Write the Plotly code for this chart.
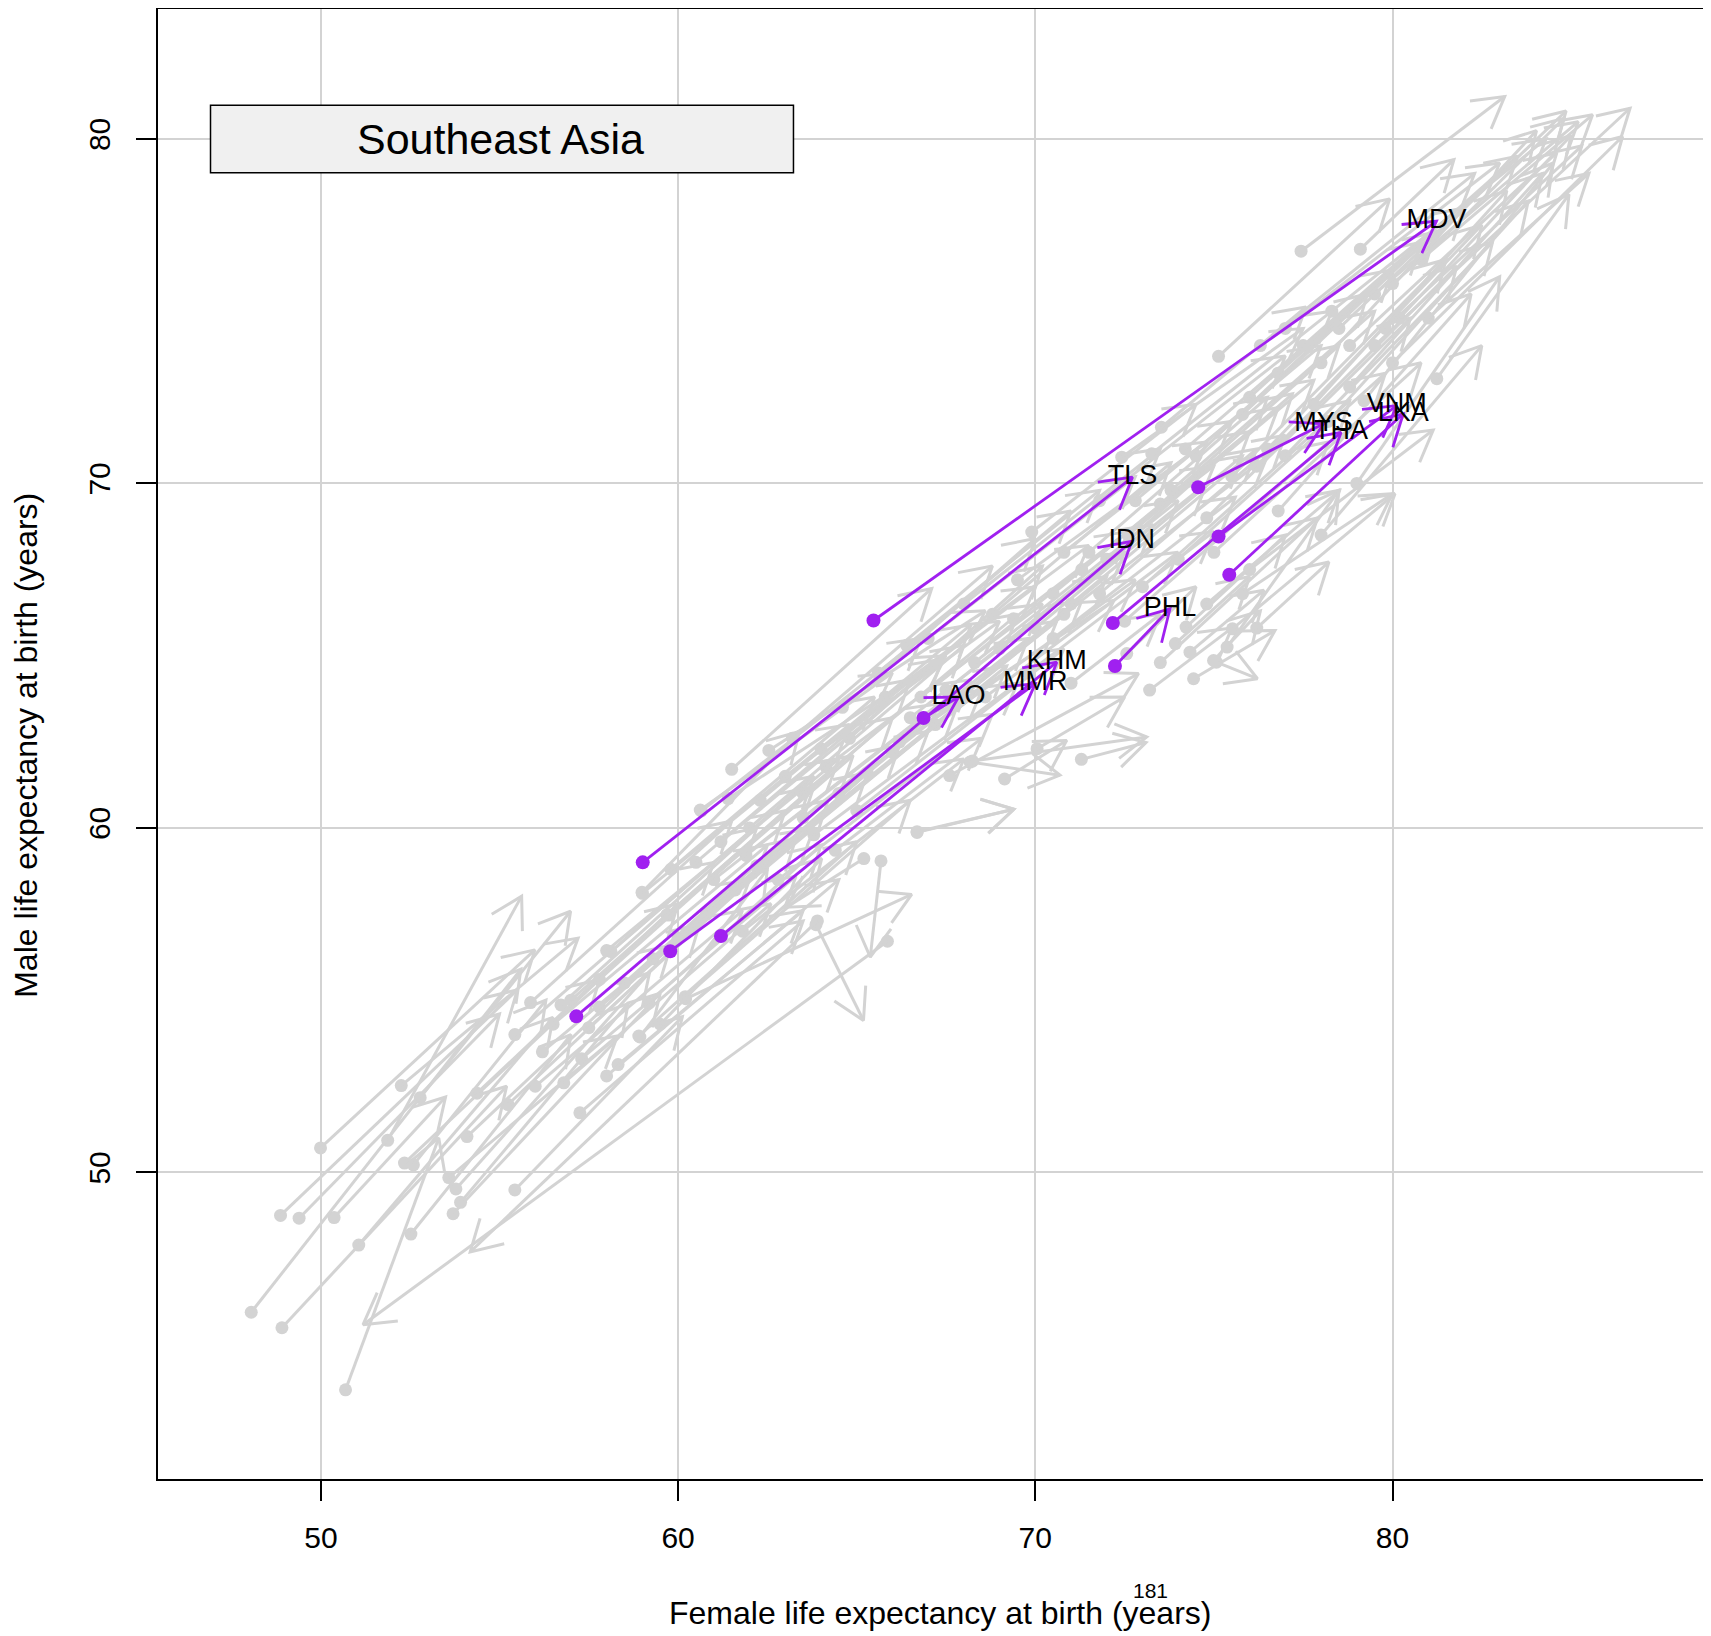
import math
import plotly.graph_objects as go

# ---------------- data (female, male life expectancy: start -> end) ----------------
# Highlighted region: Southeast Asia
sea_code = ["MDV", "TLS", "IDN", "LAO", "MMR", "KHM", "PHL", "MYS", "THA", "VNM", "LKA"]
sea_female_start = [65.47, 59.01, 57.15, 66.87, 59.78, 61.20, 72.23, 74.56, 72.17, 75.13, 75.43]
sea_male_start = [66.02, 59.00, 54.53, 63.19, 56.42, 56.86, 64.70, 69.89, 65.95, 68.46, 67.35]
sea_female_end = [81.23, 72.72, 72.70, 67.85, 70.00, 70.60, 73.77, 78.07, 78.56, 80.12, 80.30]
sea_male_end = [77.61, 70.18, 68.32, 63.80, 64.19, 64.81, 66.36, 71.73, 71.48, 72.26, 72.02]

# Other countries (grey)
other_female_start = [
    48.05, 48.91, 50.69, 48.87, 49.39, 50.37, 49.99, 51.06, 52.52, 51.87,
    52.25, 52.78, 52.34, 52.59, 53.58, 53.78, 53.91, 53.70, 54.09, 54.37,
    55.43, 55.24, 55.43, 55.87, 56.72, 58.32, 58.93, 59.18, 60.21, 59.50,
    58.12, 59.74, 58.99, 60.62, 63.86, 63.90, 65.86, 65.20, 65.68, 66.69,
    64.40, 57.25, 58.00, 59.00, 59.69, 58.90, 58.00, 60.20, 60.65, 61.40,
    62.54, 64.14, 61.50, 57.00, 57.80, 56.20, 56.80, 57.50, 58.50, 59.30,
    60.00, 60.80, 61.60, 62.20, 63.00, 63.50, 62.00, 60.50, 61.20, 64.50,
    65.30, 66.00, 64.80, 66.50, 67.60, 68.24, 69.14, 70.05, 71.29, 68.17,
    66.69, 69.39, 69.90, 67.50, 68.30, 69.00, 67.00, 68.00, 70.50, 71.30,
    70.00, 72.42, 73.26, 71.80, 72.60, 73.50, 74.50, 75.13, 73.53, 76.00,
    77.44, 79.10, 81.24, 76.80, 77.50, 78.00, 78.50, 79.50, 80.00, 78.80,
    77.80, 76.50, 75.50, 77.00, 78.20, 79.20, 80.20, 74.80, 76.20, 75.00,
    76.80, 74.00, 73.00, 72.50, 76.00, 75.80, 76.20, 74.43, 75.07, 75.37,
    75.52, 74.33, 73.92, 74.22, 72.56, 74.99, 73.20, 71.00, 78.00, 79.00,
    79.50, 78.30, 80.00, 77.00, 76.30, 78.80, 79.80, 81.00, 80.80, 75.80,
    74.20, 73.80, 72.80, 71.50, 70.80, 69.50, 68.80, 71.00, 72.00, 73.50,
    74.80, 63.00, 64.00, 65.80, 66.20, 67.20, 68.60, 69.80, 70.50, 62.80,
    63.80, 61.80, 57.80, 56.50, 63.20, 64.60, 65.60, 66.40, 62.30, 61.00,
    59.80, 63.50, 66.80, 65.00, 61.90, 57.30, 56.00, 70.80, 71.80,
]
other_male_start = [
    45.94, 45.49, 43.69, 48.75, 48.67, 48.69, 50.71, 47.89, 48.21, 50.93,
    52.52, 52.17, 50.27, 50.22, 49.85, 49.52, 49.13, 48.80, 51.04, 52.30,
    49.49, 51.97, 54.00, 54.93, 54.86, 53.13, 53.93, 54.91, 55.04, 54.30,
    56.41, 57.47, 58.13, 60.52, 57.19, 57.30, 56.71, 59.11, 59.04, 59.87,
    59.35, 51.73, 56.44, 58.10, 57.48, 53.96, 52.80, 55.10, 60.49, 60.85,
    62.25, 61.77, 61.70, 55.00, 55.60, 53.50, 52.60, 54.20, 55.50, 56.20,
    56.80, 57.50, 58.20, 58.90, 59.50, 60.30, 60.00, 59.00, 59.60, 61.00,
    61.60, 62.20, 62.60, 63.20, 61.52, 61.94, 61.42, 62.30, 61.99, 61.91,
    59.89, 66.07, 68.59, 64.00, 64.80, 65.20, 65.50, 66.50, 66.80, 67.50,
    65.80, 70.76, 70.86, 69.50, 68.50, 69.40, 70.80, 73.69, 71.63, 72.50,
    76.74, 76.80, 73.04, 73.20, 74.00, 73.50, 74.50, 74.00, 73.50, 72.80,
    72.30, 71.00, 70.20, 70.80, 71.80, 72.40, 74.80, 69.00, 70.50, 68.00,
    69.20, 67.80, 67.00, 66.00, 67.50, 66.80, 65.80, 64.33, 64.81, 65.25,
    65.78, 65.10, 65.35, 65.83, 65.06, 64.86, 64.00, 64.20, 68.50, 70.00,
    75.50, 75.00, 75.80, 74.50, 74.00, 74.00, 74.50, 74.80, 76.50, 72.00,
    71.00, 69.80, 69.50, 68.00, 68.00, 67.20, 66.20, 66.50, 67.80, 64.80,
    66.50, 61.50, 62.30, 63.80, 62.50, 63.00, 63.80, 64.50, 65.50, 58.50,
    59.80, 57.00, 54.80, 54.30, 62.60, 63.50, 64.50, 65.30, 60.80, 58.50,
    58.80, 61.00, 63.80, 60.50, 59.20, 53.30, 52.50, 66.20, 66.80,
]
other_female_end = [
    55.60, 55.20, 53.30, 55.50, 55.00, 53.49, 55.99, 56.50, 57.00, 55.62,
    57.20, 56.99, 57.80, 56.30, 58.30, 59.20, 58.60, 59.50, 59.80, 60.00,
    60.12, 60.60, 61.00, 61.50, 62.20, 63.50, 62.50, 64.00, 66.54, 64.02,
    63.80, 64.90, 63.40, 66.00, 65.19, 54.18, 51.18, 63.04, 65.38, 69.40,
    68.50, 63.50, 64.50, 64.80, 66.00, 65.00, 64.50, 66.50, 66.80, 67.50,
    68.60, 70.20, 67.10, 63.00, 63.80, 62.00, 62.60, 63.30, 64.20, 65.30,
    66.20, 67.00, 67.80, 68.50, 69.20, 69.80, 68.00, 66.50, 67.40, 70.60,
    71.30, 72.00, 70.20, 72.50, 72.89, 73.12, 70.88, 72.50, 73.10, 70.69,
    69.40, 75.00, 74.50, 73.30, 74.00, 74.80, 72.80, 73.50, 76.00, 76.80,
    75.80, 77.50, 78.30, 77.00, 77.80, 78.50, 79.30, 79.92, 77.58, 80.80,
    83.14, 81.72, 84.94, 82.00, 83.50, 84.03, 84.86, 86.65, 86.44, 84.20,
    83.20, 82.50, 81.50, 82.80, 83.80, 84.50, 85.00, 80.50, 81.80, 80.80,
    82.20, 79.80, 78.80, 78.20, 81.14, 80.00, 78.22, 76.71, 76.22, 78.50,
    80.07, 76.40, 76.00, 77.00, 74.50, 76.30, 75.50, 73.50, 82.50, 83.00,
    85.20, 84.30, 85.60, 83.00, 82.30, 84.60, 85.30, 85.50, 84.80, 81.20,
    80.00, 79.50, 78.00, 76.50, 75.50, 74.80, 73.80, 76.20, 77.20, 77.90,
    78.52, 69.00, 70.00, 71.50, 72.20, 72.80, 74.00, 75.00, 75.60, 68.80,
    69.50, 68.00, 63.80, 62.50, 68.80, 70.00, 71.00, 71.80, 68.20, 67.30,
    65.50, 69.50, 72.60, 70.80, 68.20, 63.30, 61.80, 76.50, 77.00,
]
other_male_end = [
    55.90, 52.50, 51.00, 55.30, 54.60, 52.19, 56.46, 54.50, 54.00, 58.02,
    56.80, 57.58, 55.60, 55.00, 53.96, 55.80, 54.90, 55.20, 56.60, 57.80,
    54.52, 57.20, 59.00, 60.20, 60.00, 57.60, 58.80, 59.50, 58.07, 59.11,
    61.50, 62.10, 62.80, 64.50, 54.41, 47.69, 45.58, 57.70, 56.25, 60.54,
    62.60, 57.30, 62.00, 63.00, 63.20, 59.60, 58.50, 60.80, 65.50, 65.00,
    66.30, 66.50, 66.95, 60.50, 61.20, 58.50, 57.80, 59.70, 60.80, 61.60,
    62.40, 62.80, 63.50, 64.00, 64.70, 65.50, 65.30, 64.30, 64.90, 66.00,
    66.60, 67.30, 67.60, 68.00, 64.48, 62.64, 62.54, 63.80, 62.48, 61.53,
    60.54, 70.50, 72.30, 68.80, 69.50, 70.00, 70.20, 71.00, 71.50, 72.20,
    70.80, 74.50, 75.00, 73.70, 73.00, 74.00, 75.50, 78.26, 75.12, 77.00,
    81.23, 79.40, 78.39, 78.00, 79.50, 80.24, 80.81, 80.89, 80.07, 79.00,
    78.50, 77.50, 76.50, 77.00, 78.20, 79.30, 80.10, 74.80, 76.30, 73.50,
    75.50, 73.20, 72.40, 71.20, 71.55, 69.70, 67.72, 65.73, 64.33, 69.80,
    69.70, 66.90, 67.30, 68.50, 67.00, 66.30, 65.80, 66.20, 74.00, 76.00,
    80.50, 80.00, 80.70, 79.30, 79.00, 79.60, 79.80, 79.00, 80.60, 77.30,
    76.20, 75.00, 74.00, 72.50, 71.80, 71.20, 70.60, 71.00, 72.60, 69.00,
    69.80, 66.00, 67.00, 68.20, 66.60, 67.20, 68.00, 68.60, 69.60, 63.30,
    64.20, 62.00, 60.00, 59.50, 67.60, 68.40, 69.20, 69.80, 65.90, 63.60,
    63.80, 66.20, 68.60, 65.20, 64.30, 58.60, 57.60, 70.80, 71.40,
]

x_ticks = [50, 60, 70, 80]
y_ticks = [50, 60, 70, 80]
x_title = "Female life expectancy at birth (years)"
y_title = "Male life expectancy at birth (years)"
region_name = "Southeast Asia"
page_number = "181"

# ---------------- layout geometry ----------------
# (page body has an 8px margin, so the figure is 8px smaller than the window)
W, H = 1701, 1626
ML, MR, MT, MB = 150, 0, 0, 155
X_RANGE = [45.44, 88.86]
Y_RANGE = [41.10, 83.80]
sx = (W - ML - MR) / (X_RANGE[1] - X_RANGE[0])   # px per unit
sy = (H - MT - MB) / (Y_RANGE[1] - Y_RANGE[0])
HEAD_PX = 35
HEAD_ANG = math.radians(30)

GREY = "#D3D3D3"
PURPLE = "#A020F0"
FONT = "Liberation Sans, Arial, Helvetica, sans-serif"


def arrow_geometry(f0, m0, f1, m1):
    lx, ly, hx, hy = [], [], [], []
    for a, b, c, d in zip(f0, m0, f1, m1):
        lx += [a, c, None]
        ly += [b, d, None]
        dxp, dyp = (c - a) * sx, (d - b) * sy
        if math.hypot(dxp, dyp) < 1:
            continue
        th = math.atan2(dyp, dxp)
        w1 = th + math.pi + HEAD_ANG
        w2 = th + math.pi - HEAD_ANG
        hx += [c + HEAD_PX * math.cos(w1) / sx, c, c + HEAD_PX * math.cos(w2) / sx, None]
        hy += [d + HEAD_PX * math.sin(w1) / sy, d, d + HEAD_PX * math.sin(w2) / sy, None]
    return lx, ly, hx, hy


fig = go.Figure()

glx, gly, ghx, ghy = arrow_geometry(other_female_start, other_male_start,
                                    other_female_end, other_male_end)
fig.add_trace(go.Scatter(x=other_female_start, y=other_male_start, mode="markers",
                         marker=dict(color=GREY, size=13), hoverinfo="skip"))
fig.add_trace(go.Scatter(x=glx, y=gly, mode="lines",
                         line=dict(color=GREY, width=3), hoverinfo="skip"))
fig.add_trace(go.Scatter(x=ghx, y=ghy, mode="lines",
                         line=dict(color=GREY, width=3), hoverinfo="skip"))

plx, ply, phx, phy = arrow_geometry(sea_female_start, sea_male_start,
                                    sea_female_end, sea_male_end)
fig.add_trace(go.Scatter(x=sea_female_start, y=sea_male_start, mode="markers",
                         marker=dict(color=PURPLE, size=14), hoverinfo="skip"))
fig.add_trace(go.Scatter(x=plx, y=ply, mode="lines",
                         line=dict(color=PURPLE, width=2.8), hoverinfo="skip"))
fig.add_trace(go.Scatter(x=phx, y=phy, mode="lines",
                         line=dict(color=PURPLE, width=2.8), hoverinfo="skip"))
fig.add_trace(go.Scatter(x=sea_female_end, y=sea_male_end, mode="text", text=sea_code,
                         textposition="middle center",
                         textfont=dict(family=FONT, size=27, color="black"),
                         hoverinfo="skip"))

axis_common = dict(
    showgrid=True, gridcolor=GREY, gridwidth=1.5, zeroline=False,
    showline=True, linecolor="black", linewidth=2,
    ticks="outside", ticklen=20, tickwidth=1.5, tickcolor="black",
    tickfont=dict(family=FONT, size=30, color="black"),
)

fig.update_layout(
    width=W, height=H,
    margin=dict(l=ML, r=MR, t=MT, b=MB),
    paper_bgcolor="white", plot_bgcolor="white",
    showlegend=False,
    xaxis=dict(range=X_RANGE, tickvals=x_ticks, ticklabelstandoff=11, **axis_common),
    yaxis=dict(range=Y_RANGE, tickvals=y_ticks, tickangle=-90, ticklabelstandoff=14,
               **axis_common),
    shapes=[
        dict(type="line", xref="paper", yref="paper", x0=0, x1=1, y0=1, y1=1,
             line=dict(color="black", width=2)),
        dict(type="rect", xref="x", yref="y", x0=46.91, x1=63.23, y0=79.02, y1=80.98,
             fillcolor="#F0F0F0", line=dict(color="black", width=1.5), layer="above"),
    ],
    annotations=[
        dict(text=region_name, x=55.03, y=80.0, xref="x", yref="y", showarrow=False,
             font=dict(family=FONT, size=43, color="black")),
        dict(text=x_title, x=0.5042, y=-0.0911, xref="paper", yref="paper",
             xanchor="center", yanchor="middle", showarrow=False,
             font=dict(family=FONT, size=32, color="black")),
        dict(text=y_title, x=-0.0852, y=0.499, xref="paper", yref="paper",
             xanchor="center", yanchor="middle", textangle=-90, showarrow=False,
             font=dict(family=FONT, size=32, color="black")),
        dict(text=page_number, x=0.6402, y=-0.0761, xref="paper", yref="paper",
             xanchor="center", yanchor="middle", showarrow=False,
             font=dict(family=FONT, size=21, color="black")),
    ],
)

fig.write_html("out.html")
